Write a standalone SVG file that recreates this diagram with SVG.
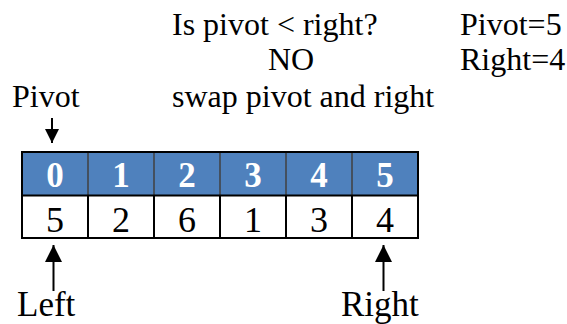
<svg xmlns="http://www.w3.org/2000/svg" width="567" height="324" viewBox="0 0 567 324">
<defs>
<style>
.t{font-family:"Liberation Serif","Times New Roman",serif;fill:#000}
.m{font-size:32px}
.b{font-size:35px}
.h{font-family:"Liberation Serif","Times New Roman",serif;font-size:35px;font-weight:bold;fill:#fff;text-anchor:middle}
.v{font-family:"Liberation Serif","Times New Roman",serif;font-size:36px;fill:#000;text-anchor:middle}
.ln{stroke:#000;stroke-width:2;fill:none}
</style>
<marker id="ah" viewBox="0 0 10 10" refX="10" refY="5" markerWidth="14" markerHeight="14" markerUnits="userSpaceOnUse" orient="auto">
<path d="M0,0 L10,5 L0,10 Z" fill="#000"/>
</marker>
<marker id="ah2" viewBox="0 0 10 10" refX="10" refY="5" markerWidth="17" markerHeight="17" markerUnits="userSpaceOnUse" orient="auto">
<path d="M0,0 L10,5 L0,10 Z" fill="#000"/>
</marker>
</defs>
<rect width="567" height="324" fill="#fff"/>

<g id="info">
<text class="t m" x="172" y="35">Is pivot &lt; right?</text>
<text class="t m" x="291" y="70" text-anchor="middle">NO</text>
<text class="t m" x="172" y="107">swap pivot and right</text>
<text class="t m" x="460" y="35">Pivot=5</text>
<text class="t m" x="460" y="70">Right=4</text>
</g>

<g id="table">
<rect x="22" y="152" width="396" height="43.5" fill="#4F81BD"/>
<rect x="22" y="195.5" width="396" height="42.5" fill="#fff"/>
<g stroke="#404040" stroke-width="1.5">
<line x1="88" y1="152" x2="88" y2="195.5"/>
<line x1="154" y1="152" x2="154" y2="195.5"/>
<line x1="220" y1="152" x2="220" y2="195.5"/>
<line x1="286" y1="152" x2="286" y2="195.5"/>
<line x1="352" y1="152" x2="352" y2="195.5"/>
</g>
<g stroke="#000" stroke-width="2">
<line x1="88" y1="195.5" x2="88" y2="238"/>
<line x1="154" y1="195.5" x2="154" y2="238"/>
<line x1="220" y1="195.5" x2="220" y2="238"/>
<line x1="286" y1="195.5" x2="286" y2="238"/>
<line x1="352" y1="195.5" x2="352" y2="238"/>
<line x1="22" y1="195.5" x2="418" y2="195.5"/>
</g>
<rect x="22" y="152" width="396" height="86" fill="none" stroke="#000" stroke-width="2"/>
<text class="h" x="55" y="187">0</text>
<text class="h" x="121" y="187">1</text>
<text class="h" x="187" y="187">2</text>
<text class="h" x="253" y="187">3</text>
<text class="h" x="319" y="187">4</text>
<text class="h" x="385" y="187">5</text>
<text class="v" x="55" y="232">5</text>
<text class="v" x="121" y="232">2</text>
<text class="v" x="187" y="232">6</text>
<text class="v" x="253" y="232">1</text>
<text class="v" x="319" y="232">3</text>
<text class="v" x="385" y="232">4</text>
</g>

<g id="pivot">
<text class="t m" x="12" y="107">Pivot</text>
</g>
<g id="left">
<text class="t b" x="17" y="316">Left</text>
</g>
<g id="right">
<text class="t b" x="341" y="316">Right</text>
</g>

<g id="connectors">
<line class="ln" x1="52" y1="118" x2="52" y2="143" marker-end="url(#ah)"/>
<line class="ln" x1="53.5" y1="291" x2="53.5" y2="245" marker-end="url(#ah2)"/>
<line class="ln" x1="383.5" y1="291" x2="383.5" y2="245" marker-end="url(#ah2)"/>
</g>
</svg>
